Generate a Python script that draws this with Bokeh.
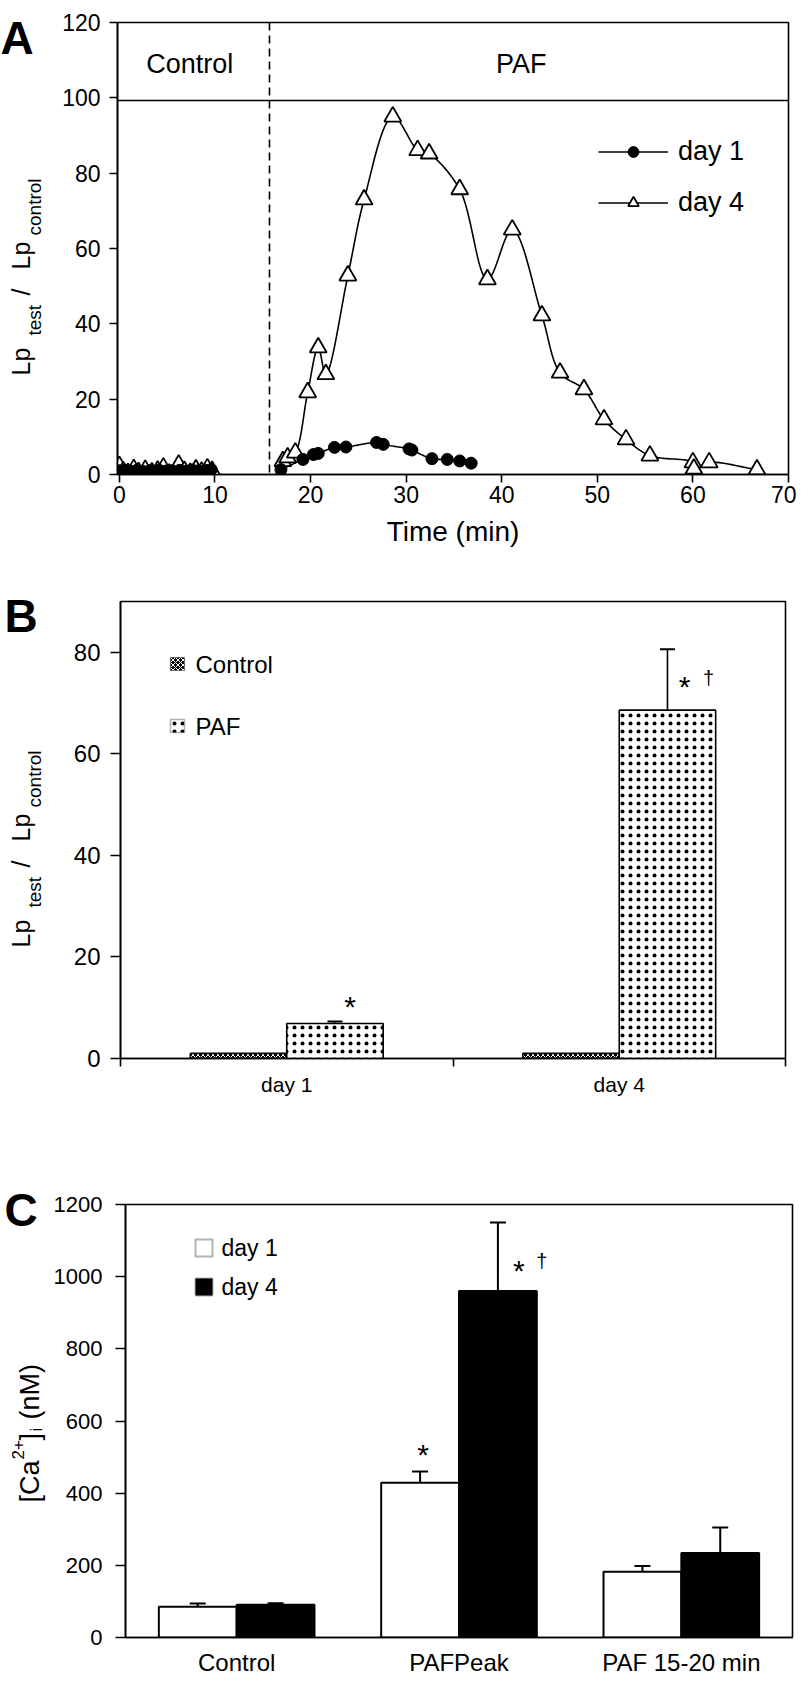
import math
import numpy as np
from bokeh.plotting import figure
from bokeh.layouts import column, row
from bokeh.models import Span, FixedTicker, Legend, LegendItem, BoxAnnotation, Label
from bokeh.core.properties import value
from bokeh.embed import file_html
from bokeh.resources import INLINE

FONT = "Liberation Sans"

# ---------------- Panel A data ----------------
day4_ctrl_t = [0, 0.4, 0.9, 1.5, 2.0, 2.7, 3.4, 4.0, 4.6, 5.2, 5.8, 6.2, 6.8, 7.4, 8.0, 8.6, 9.2, 9.7]
day4_ctrl_y = [2.2, 0.8, 0.3, 1.4, 0.6, 1.2, 0.5, 1.0, 1.8, 0.2, 0.6, 2.6, 0.9, 0.4, 1.3, 0.7, 1.6, 0.9]
day1_ctrl_t = [0, 0.5, 1.1, 1.8, 2.5, 3.2, 4.1, 4.8, 5.5, 6.3, 7.0, 7.6, 8.3, 9.0, 9.6]
day1_ctrl_y = [1.0, 1.2, 0.9, 1.1, 0.8, 1.0, 1.2, 0.9, 1.0, 1.1, 0.9, 1.2, 1.0, 1.1, 1.3]
day4_paf_t = [17.1, 17.6, 18.4, 19.7, 20.8, 21.6, 23.9, 25.6, 28.6, 31.2, 32.4, 35.6, 38.5, 41.1,
              44.2, 46.1, 48.6, 50.7, 53.0, 55.5, 60.0, 60.1, 61.7, 66.7]
day4_paf_y = [3.5, 4.5, 5.8, 21.8, 33.7, 26.6, 52.8, 73.0, 95.0, 86.1, 85.2, 75.7, 51.8, 65.0,
              42.2, 27.0, 22.6, 14.6, 9.3, 5.0, 3.2, 1.5, 3.2, 1.3]
day1_paf_t = [16.9, 19.2, 20.3, 20.8, 22.5, 23.7, 26.9, 27.6, 30.3, 30.6, 32.7, 34.3, 35.6, 36.8]
day1_paf_y = [1.3, 4.0, 5.3, 5.6, 7.2, 7.3, 8.5, 8.0, 6.8, 6.5, 4.2, 4.0, 3.6, 3.0]
a_xticks = [0, 10, 20, 30, 40, 50, 60, 70]
a_yticks = [0, 20, 40, 60, 80, 100, 120]
paf_start = 15.7
box_line = 99.3

# ---------------- Panel B data ----------------
b_groups = ["day 1", "day 4"]
b_control = [1.0, 1.0]
b_paf = [6.9, 68.6]
b_paf_err = [0.4, 12.0]
b_yticks = [0, 20, 40, 60, 80]

# ---------------- Panel C data ----------------
c_cats = ["Control", "PAFPeak", "PAF 15-20 min"]
c_day1 = [85, 429, 182]
c_day1_err = [9, 31, 16]
c_day4 = [91, 960, 234]
c_day4_err = [4, 190, 71]
c_yticks = [0, 200, 400, 600, 800, 1000, 1200]

SIDE_W = 50
MAIN_W = 796 - SIDE_W


def style(p, tick_size):
    p.xgrid.visible = False
    p.ygrid.visible = False
    p.outline_line_color = "black"
    p.outline_line_width = 1.6
    p.outline_line_alpha = 1
    p.background_fill_color = "white"
    p.border_fill_color = "white"
    p.frame_align = False
    for ax in (p.xaxis[0], p.yaxis[0]):
        ax.axis_line_color = "black"
        ax.axis_line_width = 1.6
        ax.major_tick_line_color = "black"
        ax.major_tick_line_width = 1.6
        ax.major_tick_in = 0
        ax.minor_tick_line_color = None
        ax.major_label_text_font = FONT
        ax.major_label_text_font_size = tick_size
        ax.major_label_text_color = "black"


def side_panel(height, page_top, letter, letter_pos, pieces):
    """A text-only strip on the left (1 unit = 1 px) holding the panel letter and y label."""
    s = figure(width=SIDE_W, height=height, x_range=(0, SIDE_W), y_range=(0, height),
               x_axis_type=None, y_axis_type=None, output_backend="svg", toolbar_location=None,
               min_border=0, min_border_left=0, min_border_right=0, min_border_top=0,
               min_border_bottom=0)
    s.frame_align = False
    s.outline_line_color = None
    s.grid.visible = False
    s.background_fill_color = "white"
    s.border_fill_color = "white"

    def fx(px):
        return px - 8

    def fy(py):
        return height - (py - page_top)

    lx, ly = letter_pos
    s.text(x=[fx(lx)], y=[fy(ly)], text=[letter], text_font=value(FONT), text_font_style="bold",
           text_font_size="46px", text_color="black", text_baseline="alphabetic", text_align="left")
    for txt, px, py, size in pieces:
        s.text(x=[fx(px)], y=[fy(py)], text=[txt], angle=math.pi / 2, text_align="left",
               text_baseline="alphabetic", text_font=value(FONT), text_font_size=f"{size}px",
               text_color="black")
    return s


def lp_label(start):
    # "Lp_test / Lp_control" read bottom-to-top, starting at page y = start
    return [("Lp", 28, start, 25), ("test", 42, start - 40, 19), ("/", 28, start - 80, 25),
            ("Lp", 28, start - 106, 25), ("control", 42, start - 140, 19)]


def smooth(xs, ys, sx, sy, n=16):
    P = np.column_stack([np.asarray(xs, float) * sx, np.asarray(ys, float) * sy])
    Q = np.vstack([2 * P[0] - P[1], P, 2 * P[-1] - P[-2]])
    out = [P[0]]

    def tj(ti, a, b):
        return ti + max(float(np.hypot(*(b - a))), 1e-6) ** 0.5

    for i in range(1, len(Q) - 2):
        p0, p1, p2, p3 = Q[i - 1], Q[i], Q[i + 1], Q[i + 2]
        t0 = 0.0
        t1 = tj(t0, p0, p1)
        t2 = tj(t1, p1, p2)
        t3 = tj(t2, p2, p3)
        for t in np.linspace(t1, t2, n + 1)[1:]:
            A1 = (t1 - t) / (t1 - t0) * p0 + (t - t0) / (t1 - t0) * p1
            A2 = (t2 - t) / (t2 - t1) * p1 + (t - t1) / (t2 - t1) * p2
            A3 = (t3 - t) / (t3 - t2) * p2 + (t - t2) / (t3 - t2) * p3
            B1 = (t2 - t) / (t2 - t0) * A1 + (t - t0) / (t2 - t0) * A2
            B2 = (t3 - t) / (t3 - t1) * A2 + (t - t1) / (t3 - t1) * A3
            C = (t2 - t) / (t2 - t1) * B1 + (t - t1) / (t2 - t1) * B2
            out.append(C)
    out = np.array(out)
    return out[:, 0] / sx, out[:, 1] / sy


# =============== Panel A ===============
HA = 567
pA = figure(width=MAIN_W, height=HA, x_range=(-0.2, 70), y_range=(0, 120),
            output_backend="svg", toolbar_location=None,
            min_border_left=125 - 8 - SIDE_W, min_border_right=8, min_border_top=22,
            min_border_bottom=93)
style(pA, "23px")
pA.xaxis.ticker = FixedTicker(ticks=a_xticks)
pA.yaxis.ticker = FixedTicker(ticks=a_yticks)
pA.xaxis.major_tick_out = 8
pA.yaxis.major_tick_out = 8
pA.xaxis.major_label_standoff = 3
pA.yaxis.major_label_standoff = 9
pA.xaxis.axis_label = "Time (min)"
pA.xaxis.axis_label_text_font = FONT
pA.xaxis.axis_label_text_font_size = "28px"
pA.xaxis.axis_label_text_font_style = "normal"
pA.xaxis.axis_label_text_color = "black"
pA.xaxis.axis_label_standoff = 10

pA.add_layout(Span(location=box_line, dimension="width", line_color="black", line_width=1.6))
pA.add_layout(Span(location=paf_start, dimension="height", line_color="black",
                   line_width=1.6, line_dash="8 5"))
pA.text(x=[paf_start / 2 - 0.5, (paf_start + 70) / 2 - 0.8], y=[109, 109], text=["Control", "PAF"],
        text_align="center", text_baseline="middle", text_font=value(FONT),
        text_font_size="27px", text_color="black")

# day 4 (triangles)
pA.line(day4_ctrl_t, day4_ctrl_y, line_color="black", line_width=1.6)
sx4, sy4 = smooth(day4_paf_t, day4_paf_y, 9.53, 3.765)
l4 = pA.line(sx4, sy4, line_color="black", line_width=1.6)
pA.scatter(day4_ctrl_t, day4_ctrl_y, marker="triangle", size=17, fill_color="white",
           line_color="black", line_width=1.8)
s4 = pA.scatter(day4_paf_t, day4_paf_y, marker="triangle", size=17, fill_color="white",
                line_color="black", line_width=1.8)
# day 1 (circles)
pA.line(day1_ctrl_t, day1_ctrl_y, line_color="black", line_width=1.6)
sx1, sy1 = smooth(day1_paf_t, day1_paf_y, 9.53, 3.765)
l1 = pA.line(sx1, sy1, line_color="black", line_width=1.6)
pA.scatter(day1_ctrl_t, day1_ctrl_y, marker="circle", size=12, fill_color="black", line_color="black")
s1 = pA.scatter(day1_paf_t, day1_paf_y, marker="circle", size=12, fill_color="black", line_color="black")

legA = Legend(items=[LegendItem(label="day 1", renderers=[l1, s1]),
                     LegendItem(label="day 4", renderers=[l4, s4])],
              location=(481, 256), orientation="vertical", glyph_width=70, glyph_height=27,
              label_height=27, label_standoff=10, spacing=20, padding=0, margin=0,
              border_line_color=None, background_fill_alpha=0,
              label_text_font=FONT, label_text_font_size="27px", label_text_color="black")
pA.add_layout(legA)

sA = side_panel(HA, 8, "A", (8, 45), lp_label(383))

# =============== Panel B ===============
HB = 545
ng = len(b_groups)
pB = figure(width=MAIN_W, height=HB, x_range=(0, ng), y_range=(0, 90),
            output_backend="svg", toolbar_location=None,
            min_border_left=128 - 8 - SIDE_W, min_border_right=11, min_border_top=34,
            min_border_bottom=54)
style(pB, "24px")
gx = np.arange(ng) + 0.5
bw = 0.29
pB.xaxis.ticker = FixedTicker(ticks=list(gx), minor_ticks=list(range(ng + 1)))
pB.xaxis.major_label_overrides = {float(x): g for x, g in zip(gx, b_groups)}
pB.xaxis.major_tick_out = 0
pB.xaxis.minor_tick_line_color = "black"
pB.xaxis.minor_tick_line_width = 1.6
pB.xaxis.minor_tick_out = 8
pB.xaxis.minor_tick_in = 0
pB.xaxis.major_label_text_font_size = "21px"
pB.xaxis.major_label_standoff = 6
pB.yaxis.ticker = FixedTicker(ticks=b_yticks)
pB.yaxis.major_tick_out = 10
pB.yaxis.major_label_standoff = 10

xc = gx - bw / 2
xp = gx + bw / 2
pB.vbar(x=xc, top=b_control, width=bw, fill_color="black", line_color="black", line_width=1.6,
        hatch_pattern="diagonal_cross", hatch_color="white", hatch_scale=5, hatch_weight=1)
pB.vbar(x=xp, top=b_paf, width=bw, fill_color="white", line_color="black", line_width=1.6,
        hatch_pattern="dot", hatch_color="black", hatch_scale=8, hatch_weight=1)
topp = np.array(b_paf) + np.array(b_paf_err)
pB.segment(x0=xp, y0=b_paf, x1=xp, y1=topp, line_color="black", line_width=1.6)
pB.scatter(xp, topp, marker="dash", size=15, line_color="black", line_width=2)
pB.text(x=[xp[0], xp[1]], y=[topp[0], topp[1]], text=["*", "*"], x_offset=[15, 17],
        y_offset=[-15, 37], text_align="center", text_baseline="middle",
        text_font=value(FONT), text_font_size="30px", text_color="black")
pB.text(x=[xp[1]], y=[topp[1]], text=["\u2020"], x_offset=[41], y_offset=[29],
        text_align="center", text_baseline="middle", text_font=value(FONT),
        text_font_size="20px", text_color="black")

# legend swatches (screen px inside the frame)
pB.add_layout(BoxAnnotation(left=50, right=64, bottom=388, top=401, left_units="screen",
                            right_units="screen", bottom_units="screen", top_units="screen",
                            fill_color="black", fill_alpha=1, line_color="black", line_width=1.2,
                            hatch_pattern="diagonal_cross", hatch_color="white", hatch_scale=5,
                            hatch_weight=1))
pB.add_layout(BoxAnnotation(left=50, right=64, bottom=326, top=339, left_units="screen",
                            right_units="screen", bottom_units="screen", top_units="screen",
                            fill_color="white", fill_alpha=1, line_color="black", line_width=1.6,
                            hatch_pattern="dot", hatch_color="black", hatch_scale=8,
                            hatch_weight=1))
for txt, yy in (("Control", 394.5), ("PAF", 332.5)):
    pB.add_layout(Label(x=75, y=yy, x_units="screen", y_units="screen", text=txt,
                        text_baseline="middle", text_font=FONT, text_font_size="24px",
                        text_color="black"))

sB = side_panel(HB, 575, "B", (12, 623), lp_label(955))

# =============== Panel C ===============
HC = 566
nc = len(c_cats)
pC = figure(width=MAIN_W, height=HC, x_range=(0, nc), y_range=(0, 1200),
            output_backend="svg", toolbar_location=None,
            min_border_left=133 - 8 - SIDE_W, min_border_right=4, min_border_top=92,
            min_border_bottom=38)
style(pC, "22px")
cx = np.arange(nc) + 0.5
cw = 0.35
pC.xaxis.ticker = FixedTicker(ticks=list(cx))
pC.xaxis.major_label_overrides = {float(x): c for x, c in zip(cx, c_cats)}
pC.xaxis.major_tick_out = 0
pC.xaxis.major_label_text_font_size = "24px"
pC.xaxis.major_label_standoff = 11
pC.yaxis.ticker = FixedTicker(ticks=c_yticks)
pC.yaxis.major_tick_out = 10
pC.yaxis.major_label_standoff = 13

x1 = cx - cw / 2
x4 = cx + cw / 2
pC.vbar(x=x1, top=c_day1, width=cw, fill_color="white", line_color="black", line_width=2)
pC.vbar(x=x4, top=c_day4, width=cw, fill_color="black", line_color="black", line_width=2)
t1 = np.array(c_day1) + np.array(c_day1_err)
t4 = np.array(c_day4) + np.array(c_day4_err)
pC.segment(x0=x1, y0=c_day1, x1=x1, y1=t1, line_color="black", line_width=2)
pC.segment(x0=x4, y0=c_day4, x1=x4, y1=t4, line_color="black", line_width=2)
pC.scatter(np.concatenate([x1, x4]), np.concatenate([t1, t4]), marker="dash", size=16,
           line_color="black", line_width=2)
pC.text(x=[x1[1], x4[1]], y=[t1[1], t4[1]], text=["*", "*"], x_offset=[3, 21],
        y_offset=[-17, 48], text_align="center", text_baseline="middle",
        text_font=value(FONT), text_font_size="30px", text_color="black")
pC.text(x=[x4[1]], y=[t4[1]], text=["\u2020"], x_offset=[44], y_offset=[38],
        text_align="center", text_baseline="middle", text_font=value(FONT),
        text_font_size="20px", text_color="black")

pC.add_layout(BoxAnnotation(left=70, right=87, bottom=381, top=398, left_units="screen",
                            right_units="screen", bottom_units="screen", top_units="screen",
                            fill_color="white", fill_alpha=1, line_color="black", line_width=2))
pC.add_layout(BoxAnnotation(left=70, right=87, bottom=342, top=359, left_units="screen",
                            right_units="screen", bottom_units="screen", top_units="screen",
                            fill_color="black", fill_alpha=1, line_color="black", line_width=2))
for txt, yy in (("day 1", 389.5), ("day 4", 350.5)):
    pC.add_layout(Label(x=96, y=yy, x_units="screen", y_units="screen", text=txt,
                        text_baseline="middle", text_font=FONT, text_font_size="23px",
                        text_color="black"))

sC = side_panel(HC, 1120, "C", (12, 1217),
                [("[Ca", 37, 1510, 27), ("2+", 25, 1467, 17), ("]", 37, 1448, 27),
                 ("i", 44, 1439, 17), ("(nM)", 37, 1427, 27)])

layout = column(row(sA, pA), row(sB, pB), row(sC, pC))
open("out.html", "w").write(file_html(layout, INLINE))
